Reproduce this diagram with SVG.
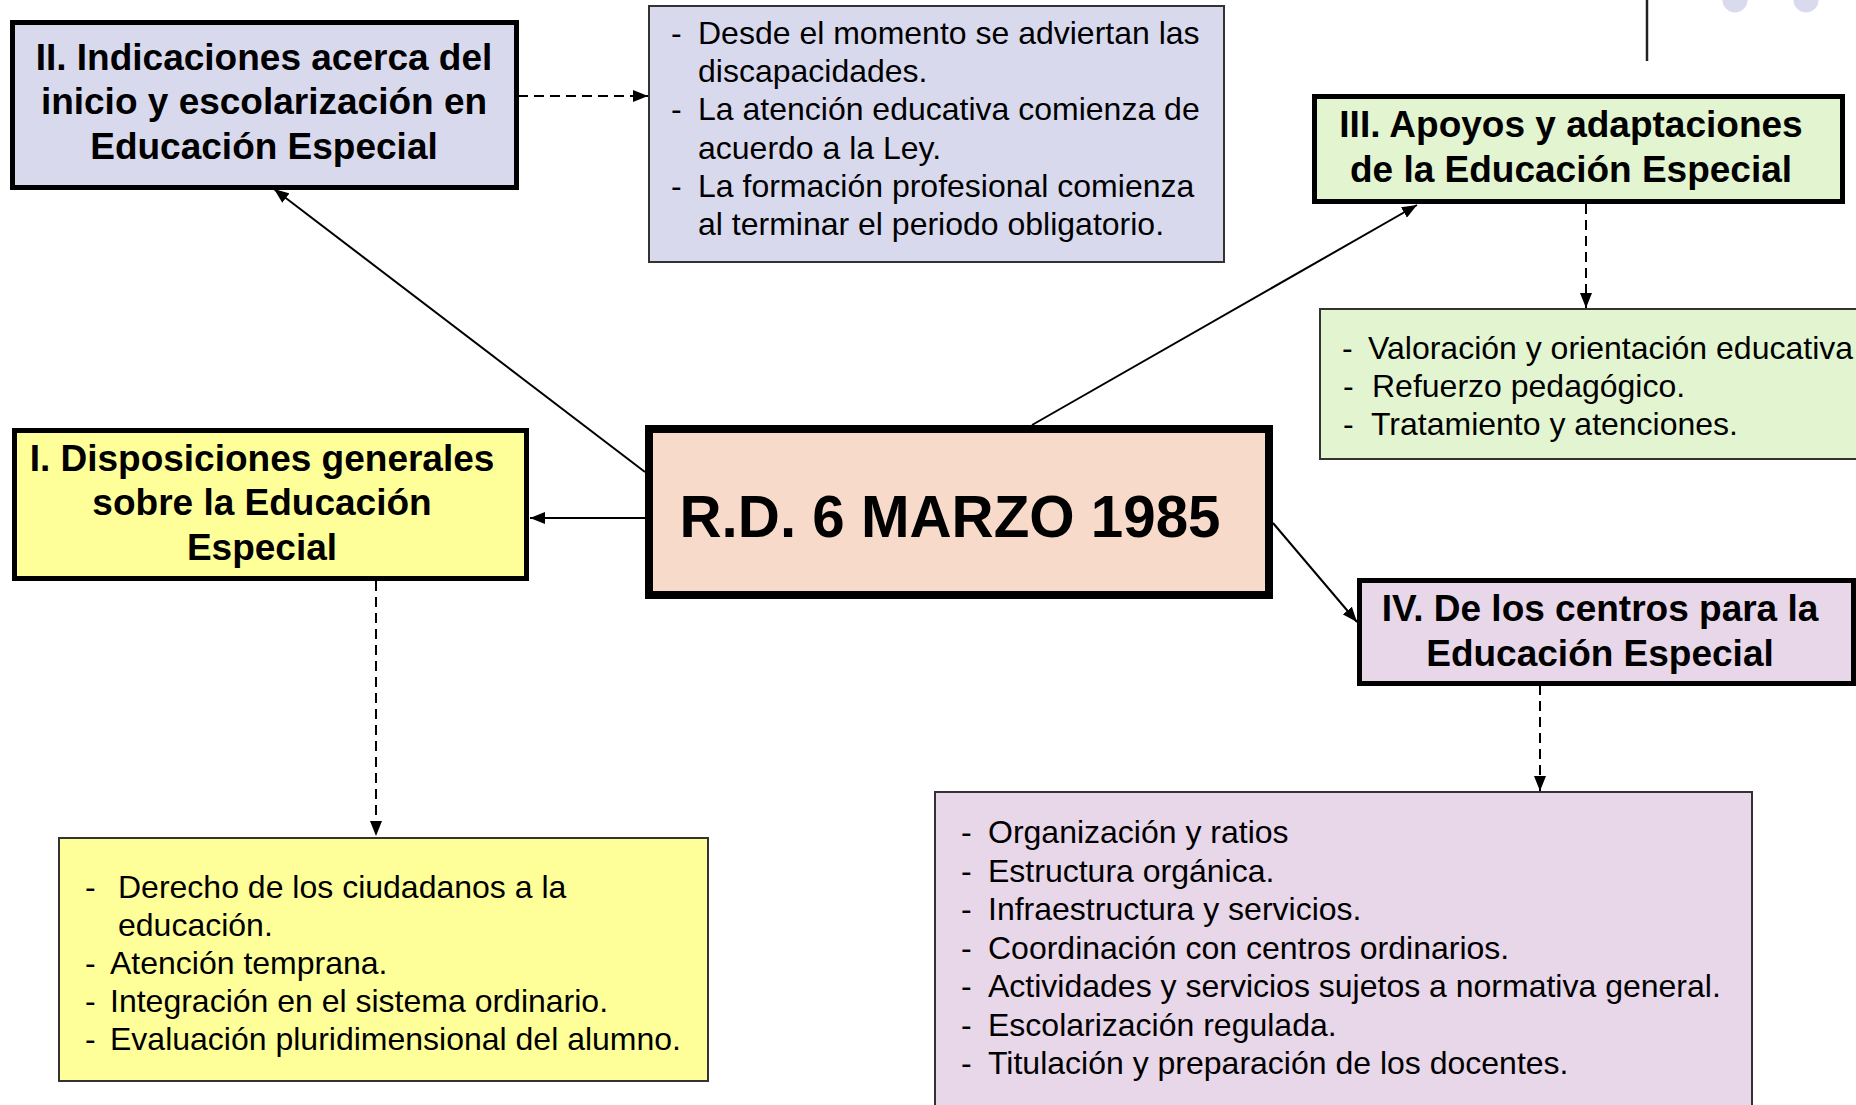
<svg xmlns="http://www.w3.org/2000/svg" width="1856" height="1105" viewBox="0 0 1856 1105">
<defs>
<style>
.t{font-family:"Liberation Sans",Arial,sans-serif;font-size:37px;font-weight:bold;fill:#000;text-anchor:middle}
.b{font-family:"Liberation Sans",Arial,sans-serif;font-size:32px;fill:#000}
.nb{stroke:#000;stroke-width:5}
.db{stroke:#333;stroke-width:2}
.c{stroke:#000;stroke-width:2;fill:none}
.d{stroke:#000;stroke-width:2;fill:none;stroke-dasharray:10 6}
</style>
<marker id="ah" markerUnits="userSpaceOnUse" markerWidth="16" markerHeight="12" refX="15" refY="6" orient="auto">
<path d="M0,0 L15,6 L0,12 z" fill="#000"/>
</marker>
</defs>
<rect width="1856" height="1105" fill="#fff"/>
<g id="deco">
<line x1="1647" y1="0" x2="1647" y2="61" stroke="#222" stroke-width="2.5"/>
<circle cx="1735" cy="0" r="12.5" fill="#dadaee"/>
<circle cx="1806" cy="0" r="12.5" fill="#dadaee"/>
</g>
<g id="connectors">
<line class="c" x1="645" y1="518" x2="530" y2="518" marker-end="url(#ah)"/>
<line class="c" x1="645" y1="472" x2="274" y2="189" marker-end="url(#ah)"/>
<line class="c" x1="1032" y1="425" x2="1417" y2="205" marker-end="url(#ah)"/>
<line class="c" x1="1273" y1="523" x2="1357" y2="622" marker-end="url(#ah)"/>
<line class="d" x1="518" y1="96" x2="648" y2="96" marker-end="url(#ah)"/>
<line class="d" x1="1586" y1="204" x2="1586" y2="308" marker-end="url(#ah)"/>
<line class="d" x1="376" y1="581" x2="376" y2="836" marker-end="url(#ah)"/>
<line class="d" x1="1540" y1="685" x2="1540" y2="791" marker-end="url(#ah)"/>
</g>
<g id="central">
<rect x="649" y="429" width="620" height="166" fill="#f8dacb" stroke="#000" stroke-width="8"/>
<text x="950" y="537" font-family="Liberation Sans, Arial, sans-serif" font-size="58.3" font-weight="bold" text-anchor="middle">R.D. 6 MARZO 1985</text>
</g>
<g id="node-II">
<rect class="nb" x="12.5" y="22.5" width="504" height="165" fill="#d9d9ed"/>
<text class="t" x="264" y="70">II. Indicaciones acerca del</text>
<text class="t" x="264" y="114">inicio y escolarización en</text>
<text class="t" x="264" y="159">Educación Especial</text>
</g>
<g id="detail-II">
<rect class="db" x="649" y="6" width="575" height="256" fill="#d9d9ed"/>
<text class="b" x="671" y="44">-</text><text class="b" x="698" y="44">Desde el momento se adviertan las</text>
<text class="b" x="698" y="82">discapacidades.</text>
<text class="b" x="671" y="120">-</text><text class="b" x="698" y="120">La atención educativa comienza de</text>
<text class="b" x="698" y="159">acuerdo a la Ley.</text>
<text class="b" x="671" y="197">-</text><text class="b" x="698" y="197">La formación profesional comienza</text>
<text class="b" x="698" y="235">al terminar el periodo obligatorio.</text>
</g>
<g id="node-III">
<rect class="nb" x="1314.5" y="96.5" width="528" height="105" fill="#e3f5d0"/>
<text class="t" x="1571" y="137">III. Apoyos y adaptaciones</text>
<text class="t" x="1571" y="182">de la Educación Especial</text>
</g>
<g id="detail-III">
<rect class="db" x="1320" y="309" width="560" height="150" fill="#e3f5d0"/>
<text class="b" x="1342" y="359">-</text><text class="b" x="1368" y="359">Valoración y orientación educativa</text>
<text class="b" x="1343" y="397">-</text><text class="b" x="1372" y="397">Refuerzo pedagógico.</text>
<text class="b" x="1343" y="435">-</text><text class="b" x="1371" y="435">Tratamiento y atenciones.</text>
</g>
<g id="node-I">
<rect class="nb" x="14.5" y="430.5" width="512" height="148" fill="#ffff99"/>
<text class="t" x="262" y="471">I. Disposiciones generales</text>
<text class="t" x="262" y="515">sobre la Educación</text>
<text class="t" x="262" y="560">Especial</text>
</g>
<g id="detail-I">
<rect class="db" x="59" y="838" width="649" height="243" fill="#ffff99"/>
<text class="b" x="85" y="898">-</text><text class="b" x="118" y="898">Derecho de los ciudadanos a la</text>
<text class="b" x="118" y="936">educación.</text>
<text class="b" x="85" y="974">-</text><text class="b" x="110" y="974">Atención temprana.</text>
<text class="b" x="85" y="1012">-</text><text class="b" x="110" y="1012">Integración en el sistema ordinario.</text>
<text class="b" x="85" y="1050">-</text><text class="b" x="110" y="1050">Evaluación pluridimensional del alumno.</text>
</g>
<g id="node-IV">
<rect class="nb" x="1359.5" y="580.5" width="494" height="103" fill="#e8d6e9"/>
<text class="t" x="1600" y="621">IV. De los centros para la</text>
<text class="t" x="1600" y="666">Educación Especial</text>
</g>
<g id="detail-IV">
<rect class="db" x="935" y="792" width="817" height="330" fill="#e8d6e9"/>
<text class="b" x="961" y="843">-</text><text class="b" x="988" y="843">Organización y ratios</text>
<text class="b" x="961" y="882">-</text><text class="b" x="988" y="882">Estructura orgánica.</text>
<text class="b" x="961" y="920">-</text><text class="b" x="988" y="920">Infraestructura y servicios.</text>
<text class="b" x="961" y="959">-</text><text class="b" x="988" y="959">Coordinación con centros ordinarios.</text>
<text class="b" x="961" y="997">-</text><text class="b" x="988" y="997">Actividades y servicios sujetos a normativa general.</text>
<text class="b" x="961" y="1036">-</text><text class="b" x="988" y="1036">Escolarización regulada.</text>
<text class="b" x="961" y="1074">-</text><text class="b" x="988" y="1074">Titulación y preparación de los docentes.</text>
</g>
</svg>
